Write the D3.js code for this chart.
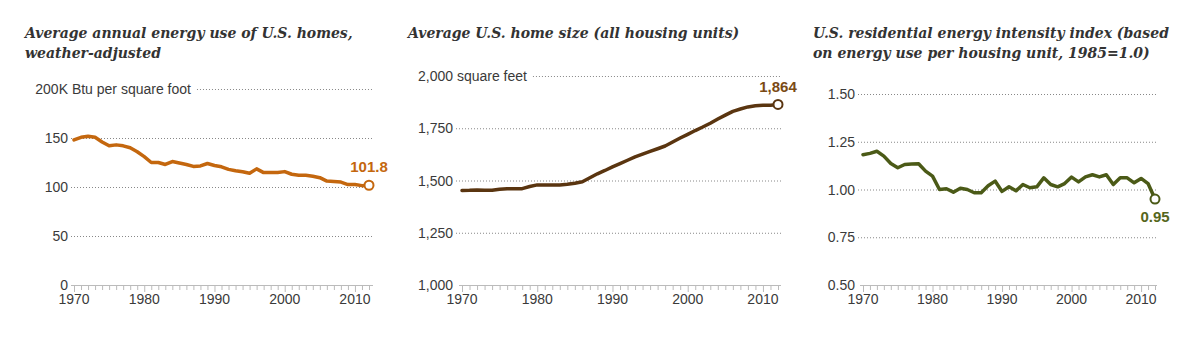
<!DOCTYPE html>
<html>
<head>
<meta charset="utf-8">
<script src="https://cdn.jsdelivr.net/npm/d3@7"></script>
<style>
  body { margin: 0; background: #fff; }
  .title { font-family: "DejaVu Serif", serif; font-style: italic; font-weight: bold; fill: #333; }
  .tick-label { font-family: "Liberation Sans", Arial, sans-serif; font-size: 14px; fill: #3a3a3a; }
  .grid { stroke: #888; stroke-width: 1; stroke-dasharray: 1,2; }
  .value-label { font-family: "Liberation Sans", Arial, sans-serif; font-size: 15px; font-weight: bold; }
</style>
</head>
<body>
<div id="chart"></div>
<script>
/*------------------------------
 DATA
 ----------------------------*/
const YEARS = d3.range(1970, 2013);

// thousand Btu per square foot
const energyUse = [148, 150.7, 151.7, 150.7, 146, 142, 143, 142, 140, 136,
                   131, 125, 125, 123, 126, 124.5, 123, 121, 121.5, 124,
                   122, 120.6, 118, 116.5, 115.5, 114, 118.5, 114.7, 114.7, 114.7,
                   115.7, 113, 112, 112, 111, 109.5, 106, 105.5, 105, 102.5,
                   102.5, 101.4, 101.8];

// square feet
const homeSize = [1452, 1453, 1455, 1453, 1453, 1458, 1461, 1461, 1461, 1471,
                  1479, 1479, 1479, 1479, 1482, 1487, 1494, 1513, 1532, 1548,
                  1565, 1581, 1597, 1613, 1626, 1639, 1652, 1665, 1684, 1703,
                  1721, 1739, 1756, 1774, 1794, 1813, 1831, 1842, 1852, 1858,
                  1860, 1860, 1864];

// index, 1985 = 1.0
const intensity = [1.182, 1.189, 1.20, 1.175, 1.136, 1.114, 1.131, 1.133, 1.135, 1.096,
                   1.07, 1.00, 1.004, 0.986, 1.007, 1.00, 0.983, 0.983, 1.02, 1.044,
                   0.99, 1.014, 0.993, 1.026, 1.009, 1.014, 1.061, 1.026, 1.014, 1.031,
                   1.065, 1.04, 1.066, 1.077, 1.066, 1.077, 1.026, 1.061, 1.061, 1.035,
                   1.058, 1.031, 0.95];

const xTickYears = [1970, 1980, 1990, 2000, 2010];
const energyTicks = [0, 50, 100, 150, 200];
const sizeTicks = [1000, 1250, 1500, 1750, 2000];
const intensityTicks = [0.5, 0.75, 1.0, 1.25, 1.5];

/*------------------------------
 PANELS
 ----------------------------*/
const SVG_WIDTH = 1200;
const SVG_HEIGHT = 338;
const BASE_Y = 285;

const PANELS = [
  {title: ["Average annual energy use of U.S. homes,", "weather-adjusted"], titleX: 25,
   values: energyUse, ticks: energyTicks, domain: [0, 200], top: 89,
   xRange: [74, 369], fmt: d => d === 200 ? "200K Btu per square foot" : d3.format("d")(d),
   labelX: 68, gridEnd: 373, color: "#c4670e", labelColor: "#c4670e",
   valueText: "101.8", valueDy: -13},
  {title: ["Average U.S. home size (all housing units)"], titleX: 408,
   values: homeSize, ticks: sizeTicks, domain: [1000, 2000], top: 76,
   xRange: [462, 778], fmt: d => d === 2000 ? "2,000 square feet" : d3.format(",")(d),
   labelX: 453, gridEnd: 781, color: "#5a3510", labelColor: "#7a4a14",
   valueText: "1,864", valueDy: -12},
  {title: ["U.S. residential energy intensity index (based", "on energy use per housing unit, 1985=1.0)"], titleX: 813,
   values: intensity, ticks: intensityTicks, domain: [0.5, 1.5], top: 94,
   xRange: [863, 1155], fmt: d3.format(".2f"),
   labelX: 855, gridEnd: 1157, color: "#4b5a17", labelColor: "#55661c",
   valueText: "0.95", valueDy: 23}
];

const svg = d3.select("#chart").append("svg")
  .attr("width", SVG_WIDTH).attr("height", SVG_HEIGHT);

function drawPanel(p) {
  const g = svg.append("g");
  const x = d3.scaleLinear().domain([1970, 2012]).range(p.xRange);
  const y = d3.scaleLinear().domain(p.domain).range([BASE_Y, p.top]);

  // title
  const title = g.append("text").attr("class", "title").attr("font-size", 14);
  p.title.forEach((line, i) => {
    title.append("tspan").attr("x", p.titleX).attr("y", 38 + i * 20).text(line);
  });

  // y labels + dotted grid
  p.ticks.forEach((t, i) => {
    const last = i === p.ticks.length - 1;
    const lbl = g.append("text").attr("class", "tick-label")
      .attr("y", y(t)).attr("dy", "0.36em").text(p.fmt(t));
    let gridStart = p.labelX + 3;
    if (last && p.fmt(t).indexOf(" ") > 0) {
      // top label: number right-aligned with the others, unit text runs on
      const num = p.fmt(t).split(" ")[0];
      const tmp = g.append("text").attr("class", "tick-label").text(num);
      const w = tmp.node().getComputedTextLength();
      tmp.remove();
      lbl.attr("x", p.labelX - w);
      gridStart = p.labelX - w + lbl.node().getComputedTextLength() + 6;
    } else {
      lbl.attr("x", p.labelX).attr("text-anchor", "end");
    }
    if (i > 0) {
      g.append("line").attr("class", "grid")
        .attr("x1", gridStart).attr("x2", p.gridEnd)
        .attr("y1", y(t) + 0.5).attr("y2", y(t) + 0.5);
    }
  });

  // x axis: year ticks, decades longer
  const axis = d3.axisBottom(x)
    .tickValues(YEARS)
    .tickSize(5)
    .tickSizeOuter(0)
    .tickFormat("");
  const ax = g.append("g").attr("transform", `translate(0, ${BASE_Y})`).call(axis);
  ax.select(".domain").attr("stroke", "#bbb").attr("d", `M${p.xRange[0] - 3},0.5H${p.gridEnd}`);
  ax.selectAll(".tick line").attr("stroke", "#bbb")
    .attr("y2", d => d % 10 === 0 ? 7 : 5);
  xTickYears.forEach(yr => {
    g.append("text").attr("class", "tick-label")
      .attr("x", x(yr)).attr("y", BASE_Y + 19)
      .attr("text-anchor", "middle").text(yr);
  });

  // line
  const line = d3.line().x((d, i) => x(YEARS[i])).y(d => y(d));
  g.append("path").datum(p.values)
    .attr("fill", "none").attr("stroke", p.color)
    .attr("stroke-width", 3.5).attr("stroke-linejoin", "round").attr("stroke-linecap", "round")
    .attr("d", line);

  // end point
  const lastV = p.values[p.values.length - 1];
  g.append("circle").attr("cx", x(2012)).attr("cy", y(lastV)).attr("r", 4.5)
    .attr("fill", "#fff").attr("stroke", p.color).attr("stroke-width", 2);
  g.append("text").attr("class", "value-label")
    .attr("x", x(2012)).attr("y", y(lastV) + p.valueDy)
    .attr("text-anchor", "middle").attr("fill", p.labelColor)
    .text(p.valueText);
}

PANELS.forEach(drawPanel);
</script>
</body>
</html>
